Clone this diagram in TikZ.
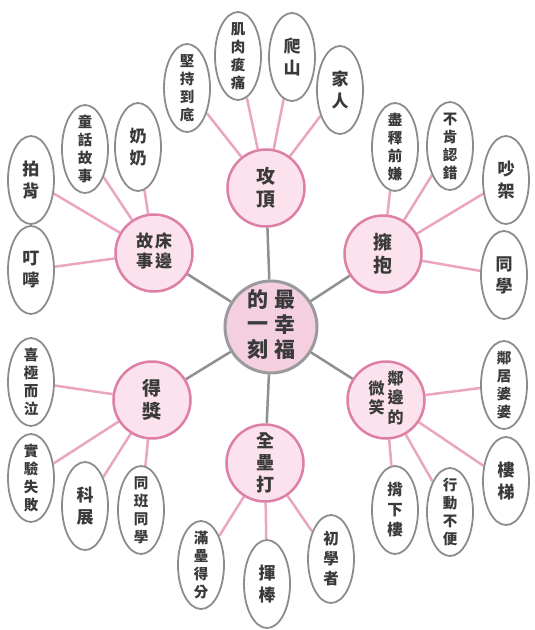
\documentclass[tikz,border=0pt]{standalone}
\usepackage{fontspec}
\newfontfamily\cjk{Noto Sans CJK TC}
\usetikzlibrary{shapes.geometric,backgrounds}
\definecolor{leafgray}{HTML}{8C8C8C}
\definecolor{txt}{HTML}{3A3A3A}
\definecolor{hubline}{HTML}{DE7FA6}
\definecolor{hubfill}{HTML}{FBE2ED}
\definecolor{coreline}{HTML}{9A9A9A}
\definecolor{corefill}{HTML}{F4CFE0}
\definecolor{spokegray}{HTML}{8F8F8F}
\definecolor{twigpink}{HTML}{EAA6C1}
\tikzset{
 leaf/.style={ellipse, draw=leafgray, line width=1.8pt, fill=white, minimum width=46pt, minimum height=88pt, inner sep=0pt},
 leaftext/.style={text=txt, align=center, font=\cjk\bfseries\fontsize{14.5}{18}\selectfont, inner sep=0pt},
 bigleaf/.style={leaftext, font=\cjk\bfseries\fontsize{17}{22}\selectfont},
 midleaf/.style={leaftext, font=\cjk\bfseries\fontsize{15.5}{20}\selectfont},
 hub/.style={circle, draw=hubline, fill=hubfill, line width=2.5pt, minimum size=77pt, inner sep=0pt},
 hubtext/.style={text=txt, align=center, font=\cjk\bfseries\fontsize{19}{23}\selectfont, inner sep=0pt},
 core/.style={circle, draw=coreline, fill=corefill, line width=3pt, minimum size=92pt, inner sep=0pt},
 coretext/.style={text=txt, font=\cjk\bfseries\fontsize{21}{24}\selectfont, inner sep=0pt},
 spoke/.style={draw=spokegray, line width=2.5pt},
 twig/.style={draw=twigpink, line width=2.5pt},
}
\newcommand\leaf[5][leaftext]{\node[leaf] (#2) at (#3,#4) {}; \node[#1] (#2-t) at (#2) {#5};}
\newcommand\col[1]{\begin{tabular}[c]{@{}c@{}}#1\end{tabular}}
\begin{document}
\begin{tikzpicture}[x=1pt,y=-1pt]
\useasboundingbox (0,0) rectangle (535,630);
% core and hubs
\node[core] (core) at (271,327) {};
\node[coretext] (core-t) at (core) {\renewcommand\arraystretch{1.0}\col{的\\一\\刻}\hspace{6pt}\col{最\\幸\\福}};
\node[hub] (top) at (266,188) {};
\node[hubtext] (top-t) at (top) {攻\\頂};
\node[hub] (ul) at (154,253) {};
\node[hubtext, font=\cjk\bfseries\fontsize{17}{20}\selectfont] (ul-t) at (ul) {\col{故\\事}\hspace{2pt}\col{床\\邊}};
\node[hub] (ur) at (383,254) {};
\node[hubtext] (ur-t) at (ur) {擁\\抱};
\node[hub] (ll) at (152,400) {};
\node[hubtext] (ll-t) at (ll) {得\\獎};
\node[hub] (lr) at (386,400) {};
\node[hubtext, font=\cjk\bfseries\fontsize{16}{19}\selectfont] (lr-t) at (lr) {\col{微\\笑}\hspace{3pt}\col{鄰\\邊\\的}};
\node[hub] (bot) at (265,463) {};
\node[hubtext, font=\cjk\bfseries\fontsize{18}{22}\selectfont] (bot-t) at (bot) {全\\壘\\打};
% leaves of top
\leaf{t1}{187}{88}{堅\\持\\到\\底}
\leaf{t2}{238}{56}{肌\\肉\\痠\\痛}
\leaf[bigleaf]{t3}{292}{57}{爬\\山}
\leaf[bigleaf]{t4}{340}{90}{家\\人}
% leaves of upper left
\leaf[bigleaf]{u1}{31}{180}{拍\\背}
\leaf{u2}{85}{149}{童\\話\\故\\事}
\leaf[bigleaf]{u3}{138}{147}{奶\\奶}
\leaf[bigleaf]{u4}{31}{270}{叮\\嚀}
% leaves of upper right
\leaf{r1}{395}{147}{盡\\釋\\前\\嫌}
\leaf{r2}{450}{146}{不\\肯\\認\\錯}
\leaf[bigleaf]{r3}{506}{180}{吵\\架}
\leaf[bigleaf]{r4}{504}{275}{同\\學}
% leaves of lower left
\leaf{l1}{31}{382}{喜\\極\\而\\泣}
\leaf{l2}{31}{478}{實\\驗\\失\\敗}
\leaf[bigleaf]{l3}{85}{506}{科\\展}
\leaf{l4}{141}{510}{同\\班\\同\\學}
% leaves of lower right
\leaf{m1}{504}{385}{鄰\\居\\婆\\婆}
\leaf[bigleaf]{m2}{506}{481}{樓\\梯}
\leaf{m3}{450}{512}{行\\動\\不\\便}
\leaf[midleaf]{m4}{395}{510}{揹\\下\\樓}
% leaves of bottom
\leaf{b1}{201}{565}{滿\\壘\\得\\分}
\leaf[bigleaf]{b2}{267}{584}{揮\\棒}
\leaf[midleaf]{b3}{331}{559}{初\\學\\者}
% connectors
\begin{scope}[on background layer]
\foreach \h in {top,ul,ur,ll,lr,bot} \path[spoke] (core) -- (\h);
\foreach \l in {t1,t2,t3,t4} \path[twig] (top) -- (\l);
\foreach \l in {u1,u2,u3,u4} \path[twig] (ul) -- (\l);
\foreach \l in {r1,r2,r3,r4} \path[twig] (ur) -- (\l);
\foreach \l in {l1,l2,l3,l4} \path[twig] (ll) -- (\l);
\foreach \l in {m1,m2,m3,m4} \path[twig] (lr) -- (\l);
\foreach \l in {b1,b2,b3} \path[twig] (bot) -- (\l);
\end{scope}
\end{tikzpicture}
\end{document}
